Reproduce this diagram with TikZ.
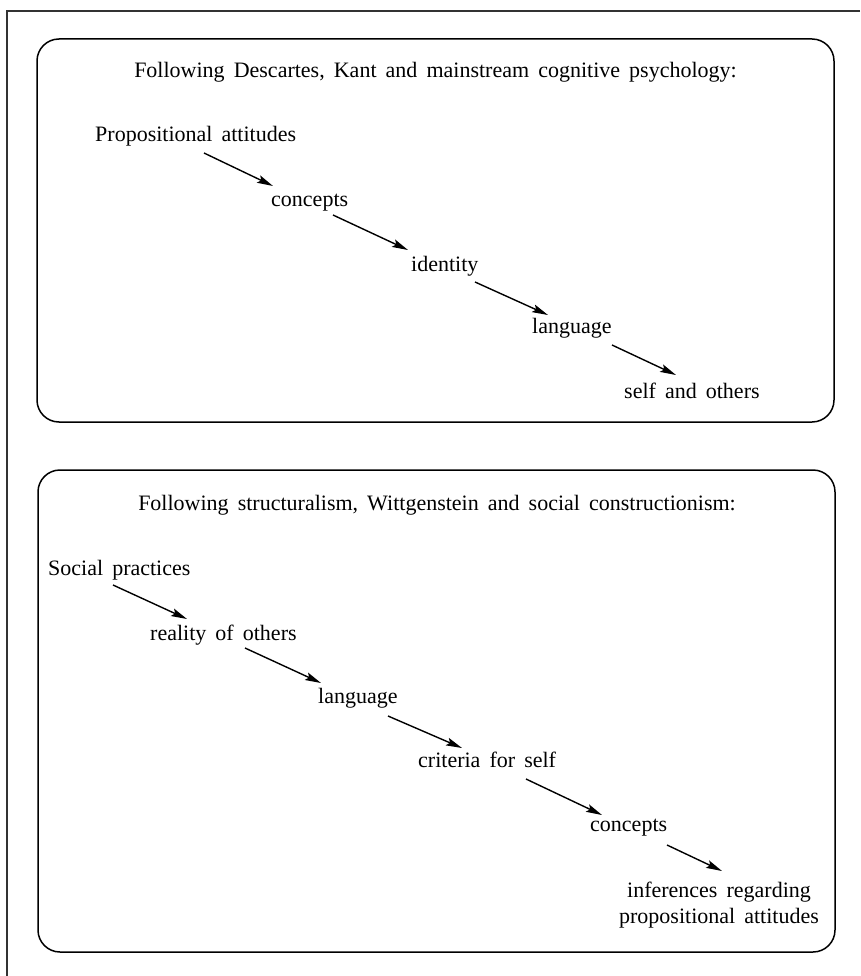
\documentclass[tikz,border=0pt]{standalone}
\usepackage{fontspec}
\setmainfont{Liberation Serif}[WordSpace=1.65]
\usetikzlibrary{arrows.meta}
\begin{document}
\begin{tikzpicture}[x=1pt,y=-1pt,
  lbl/.style={inner sep=0pt, font=\fontsize{22}{26}\selectfont, anchor=base west},
  headline/.style={lbl, anchor=base},
  flow/.style={-{Stealth[length=16pt,width=8pt,inset=3pt]}, line width=1.4pt},
  panel/.style={line width=1.5pt, rounded corners=22pt},
  frame/.style={line width=1.2pt, draw=black!80}]
\useasboundingbox (0,0) rectangle (860,976);

% page frame (top and left rules)
\draw[frame] (860,11) -- (7,11) -- (7,976);

% the two panels
\draw[panel] (37,39) rectangle (834,422);
\draw[panel] (38,470) rectangle (835,952);

% first panel: the classical order
\node[headline] (h1) at (435.5,78) {Following Descartes, Kant and mainstream cognitive psychology:};
\node[lbl] (pa) at (95,142) {Propositional attitudes};
\node[lbl] (ca) at (271,207) {concepts};
\node[lbl] (id) at (411,271) {identity};
\node[lbl] (la) at (532,333) {language};
\node[lbl] (so) at (624,398) {self and others};

\draw[flow] ([shift={(109,11)}]pa.base west) -- ([shift={(2,-21)}]ca.base west);
\draw[flow] ([shift={(62,8)}]ca.base west) -- ([shift={(-3,-21)}]id.base west);
\draw[flow] ([shift={(64,11)}]id.base west) -- ([shift={(16,-18)}]la.base west);
\draw[flow] ([shift={(80,12)}]la.base west) -- ([shift={(52,-23)}]so.base west);

% second panel: the social order
\node[headline] (h2) at (437,510) {Following structuralism, Wittgenstein and social constructionism:};
\node[lbl] (sp) at (48,575) {Social practices};
\node[lbl] (ro) at (150,640) {reality of others};
\node[lbl] (lb) at (318,703) {language};
\node[lbl] (cs) at (418,767) {criteria for self};
\node[lbl] (cb) at (590,831) {concepts};
\node[lbl, anchor=north, align=center] (in) at (719,882) {inferences regarding\\propositional attitudes};

\draw[flow] ([shift={(65,10)}]sp.base west) -- ([shift={(37,-21)}]ro.base west);
\draw[flow] ([shift={(95,8)}]ro.base west) -- ([shift={(3,-20)}]lb.base west);
\draw[flow] ([shift={(70,13)}]lb.base west) -- ([shift={(44,-19)}]cs.base west);
\draw[flow] ([shift={(108,12)}]cs.base west) -- ([shift={(12,-16)}]cb.base west);
\draw[flow] ([shift={(77,14)}]cb.base west) -- ([shift={(3,-11)}]in.north);
\end{tikzpicture}
\end{document}
